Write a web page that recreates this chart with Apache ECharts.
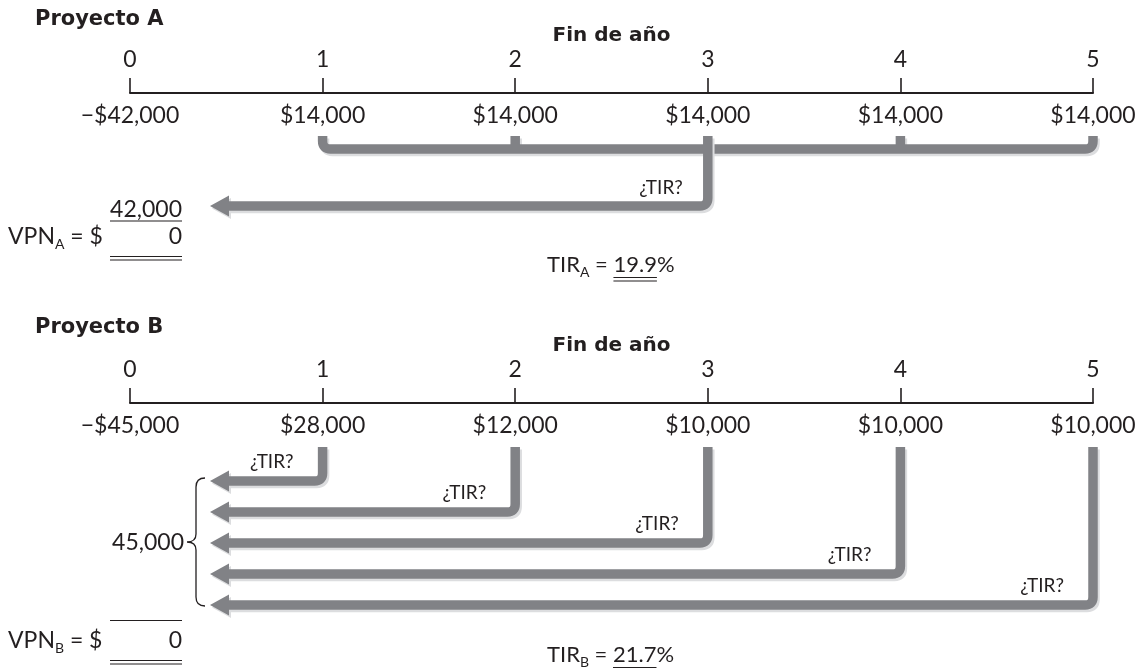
<!DOCTYPE html>
<html>
<head>
<meta charset="utf-8">
<script src="https://cdn.jsdelivr.net/npm/echarts@6/dist/echarts.min.js"></script>
<style>
  html, body { margin: 0; background: #fff; }
  #chart { width: 1141px; height: 668px; }
</style>
</head>
<body>
<div id="chart"></div>
<script>
// data
const years = [0, 1, 2, 3, 4, 5];
const yearLabels = ['0', '1', '2', '3', '4', '5'];
const cashA = [-42000, 14000, 14000, 14000, 14000, 14000];
const cashB = [-45000, 28000, 12000, 10000, 10000, 10000];
const pvInflows = [42000, 45000];
const npvValues = [0, 0];
const irrValues = [19.9, 21.7];
const projectTitles = ['Proyecto A', 'Proyecto B'];
const projectKeys = ['A', 'B'];
const axisTitle = 'Fin de año';
const irrQuestion = '¿TIR?';

const FONT = 'Lato, "Noto Sans", sans-serif';
const HEAVY = '"DejaVu Sans", Lato, sans-serif';
const INK = '#231f20';
const GRAY = '#818286';
const SHADOW = '#dcdddf';
const ARROW_W = 9.5;

// offsets below each timeline, in px (layout only)
const LABEL_OFF = 23;
const STUB_TOP = 43;
const BAR_OFF = 56;
const ARROW_A_OFF = 113;
const FIRST_ROW_OFF = 78;
const ROW_GAP = 31;
const TIP_DX = 80;

const money = (v) => (v < 0 ? '\u2212$' : '$') + Math.abs(v).toLocaleString('en-US');

const ctx = document.createElement('canvas').getContext('2d');
const textWidth = (text, font) => {
  ctx.font = font;
  return ctx.measureText(text).width;
};

function xAxisFor(gridIndex) {
  return {
    gridIndex,
    type: 'value',
    position: 'top',
    min: 0,
    max: 5,
    interval: 1,
    axisLine: { lineStyle: { color: INK, width: 2 } },
    axisTick: { length: 15, lineStyle: { color: INK, width: 1.6 } },
    axisLabel: {
      formatter: (v) => yearLabels[years.indexOf(v)],
      fontSize: 23,
      color: INK,
      fontFamily: FONT,
      margin: 22,
    },
    splitLine: { show: false },
    name: axisTitle,
    nameLocation: 'middle',
    nameGap: 47,
    nameTextStyle: { fontSize: 20, fontWeight: 'bold', color: INK, fontFamily: HEAVY },
  };
}

// gray bent arrow with a light shadow
function arrowParts(pathData, tipX, tipY) {
  const parts = [];
  [[SHADOW, 2, 2.5], [GRAY, 0, 0]].forEach(([color, dx, dy]) => {
    parts.push({
      type: 'path',
      x: dx,
      y: dy,
      shape: { pathData },
      style: { stroke: color, lineWidth: ARROW_W, fill: 'none', lineCap: 'butt' },
    });
    if (tipX !== null) {
      const head = [[tipX, tipY], [tipX + 19, tipY - 10.5], [tipX + 19, tipY + 10.5]];
      parts.push({ type: 'polygon', x: dx, y: dy, shape: { points: head }, style: { fill: color } });
    }
  });
  return parts;
}

function irrText(x, y) {
  return {
    type: 'text',
    x,
    y,
    style: { text: irrQuestion, fill: INK, font: `19px ${FONT}`, align: 'right', verticalAlign: 'middle' },
  };
}

function cashSeries(gridIndex, cash) {
  return {
    type: 'custom',
    xAxisIndex: gridIndex,
    yAxisIndex: gridIndex,
    data: years.map((y, i) => [y, cash[i]]),
    renderItem: (params, api) => {
      const p = api.coord([api.value(0), LABEL_OFF]);
      return {
        type: 'text',
        x: p[0],
        y: p[1],
        style: { text: money(api.value(1)), fill: INK, font: `23px ${FONT}`, align: 'center', verticalAlign: 'middle' },
      };
    },
  };
}

// Project A: inflows gathered into one bracket, single IRR arrow back to year 0
const inflowYearsA = years.filter((y, i) => cashA[i] > 0);
const pivotA = inflowYearsA[Math.floor(inflowYearsA.length / 2)];

const bracketA = {
  type: 'custom',
  xAxisIndex: 0,
  yAxisIndex: 0,
  data: [[inflowYearsA[0], inflowYearsA[inflowYearsA.length - 1], pivotA]],
  renderItem: (params, api) => {
    const r = 8;
    const top = api.coord([0, STUB_TOP])[1];
    const bar = api.coord([0, BAR_OFF])[1];
    const ay = api.coord([0, ARROW_A_OFF])[1];
    const tipX = api.coord([0, 0])[0] + TIP_DX;
    const x1 = api.coord([api.value(0), 0])[0];
    const x2 = api.coord([api.value(1), 0])[0];
    const xp = api.coord([api.value(2), 0])[0];
    let d = `M ${x1} ${top} L ${x1} ${bar - r} Q ${x1} ${bar} ${x1 + r} ${bar} L ${x2 - r} ${bar} Q ${x2} ${bar} ${x2} ${bar - r} L ${x2} ${top}`;
    inflowYearsA.slice(1, -1).forEach((y) => {
      const x = api.coord([y, 0])[0];
      if (y !== api.value(2)) d += ` M ${x} ${top} L ${x} ${bar}`;
    });
    const children = arrowParts(d, null, null);
    const dp = `M ${xp} ${top} L ${xp} ${ay - r} Q ${xp} ${ay} ${xp - r} ${ay} L ${tipX + 15} ${ay}`;
    children.push(...arrowParts(dp, tipX, ay));
    children.push(irrText(xp - 25, ay - 18));
    return { type: 'group', children };
  },
};

// Project B: one IRR arrow per inflow year
const inflowYearsB = years.filter((y, i) => cashB[i] > 0);
const arrowsB = {
  type: 'custom',
  xAxisIndex: 1,
  yAxisIndex: 1,
  data: inflowYearsB.map((y, row) => [y, row]),
  renderItem: (params, api) => {
    const r = 8;
    const x = api.coord([api.value(0), 0])[0];
    const top = api.coord([0, STUB_TOP + 1])[1];
    const ay = api.coord([0, FIRST_ROW_OFF + api.value(1) * ROW_GAP])[1];
    const tipX = api.coord([0, 0])[0] + TIP_DX;
    const d = `M ${x} ${top} L ${x} ${ay - r} Q ${x} ${ay} ${x - r} ${ay} L ${tipX + 15} ${ay}`;
    const children = arrowParts(d, tipX, ay);
    children.push(irrText(x - 29, ay - 19));
    return { type: 'group', children };
  },
};

// brace gathering the B arrows into the initial outlay
const braceB = {
  type: 'custom',
  xAxisIndex: 1,
  yAxisIndex: 1,
  data: [[0, inflowYearsB.length - 1, pvInflows[1]]],
  renderItem: (params, api) => {
    const y1 = api.coord([0, FIRST_ROW_OFF + api.value(0) * ROW_GAP])[1] - 3;
    const y2 = api.coord([0, FIRST_ROW_OFF + api.value(1) * ROW_GAP])[1] + 1;
    const ym = (y1 + y2) / 2;
    const xr = api.coord([0, 0])[0] + TIP_DX - 5;
    const xs = xr - 9;
    const xt = xr - 18;
    const d = `M ${xr} ${y1} Q ${xs} ${y1} ${xs} ${y1 + 9} L ${xs} ${ym - 8} Q ${xs} ${ym} ${xt} ${ym} Q ${xs} ${ym} ${xs} ${ym + 8} L ${xs} ${y2 - 9} Q ${xs} ${y2} ${xr} ${y2}`;
    return {
      type: 'group',
      children: [
        { type: 'path', shape: { pathData: d }, style: { stroke: INK, lineWidth: 1.3, fill: 'none' } },
        {
          type: 'text',
          x: xt - 3,
          y: ym + 1,
          style: { text: api.value(2).toLocaleString('en-US'), fill: INK, font: `23px ${FONT}`, align: 'right', verticalAlign: 'middle' },
        },
      ],
    };
  },
};

// summary annotations (NPV / IRR rows)
const F23 = `23px ${FONT}`;
const F22 = `22px ${FONT}`;
const F14 = `14px ${FONT}`;

function txt(text, x, y, font, align) {
  return { type: 'text', x, y, style: { text, fill: INK, font, align: align || 'left', verticalAlign: 'middle' } };
}
function hline(x1, x2, y, w) {
  return { type: 'line', shape: { x1, y1: y, x2, y2: y }, style: { stroke: INK, lineWidth: w || 1.2 } };
}

function npvRow(key, value, y) {
  const els = [];
  let x = 8;
  els.push(txt('VPN', x, y, F23));
  x += textWidth('VPN', F23);
  els.push(txt(key, x, y + 7, F14));
  x += textWidth(key, F14);
  els.push(txt(' = $', x, y, F23));
  els.push(txt(String(value), 182, y, F23, 'right'));
  els.push(hline(110, 182, y + 19.5), hline(110, 182, y + 23));
  return els;
}

function irrRow(key, value, y) {
  const els = [];
  let x = 547;
  els.push(txt('TIR', x, y, F22));
  x += textWidth('TIR', F22);
  els.push(txt(key, x, y + 7, F14));
  x += textWidth(key, F14);
  els.push(txt(' = ', x, y, F22));
  x += textWidth(' = ', F22);
  const num = value.toFixed(1);
  els.push(txt(num, x, y, F22));
  const w = textWidth(num, F22);
  els.push(hline(x, x + w, y + 12.5), hline(x, x + w, y + 16));
  els.push(txt('%', x + w, y, F22));
  return els;
}

const graphicEls = [];
// Project A
graphicEls.push(txt(pvInflows[0].toLocaleString('en-US'), 182, 210, F23, 'right'));
graphicEls.push(hline(110, 182, 221));
graphicEls.push(...npvRow(projectKeys[0], npvValues[0], 237));
graphicEls.push(...irrRow(projectKeys[0], irrValues[0], 265));
// Project B
graphicEls.push(hline(110, 182, 620.5));
graphicEls.push(...npvRow(projectKeys[1], npvValues[1], 641));
graphicEls.push(...irrRow(projectKeys[1], irrValues[1], 655));

const chart = echarts.init(document.getElementById('chart'), null, { renderer: 'canvas' });
chart.setOption({
  animation: false,
  backgroundColor: '#fff',
  title: projectTitles.map((t, i) => ({
    text: t,
    left: 35,
    top: i === 0 ? 9 : 317,
    padding: 0,
    textStyle: { fontSize: 21, fontWeight: 'bold', color: INK, fontFamily: HEAVY },
  })),
  grid: [
    { left: 130, width: 963, top: 93, height: 200 },
    { left: 130, width: 963, top: 403, height: 260 },
  ],
  xAxis: [xAxisFor(0), xAxisFor(1)],
  yAxis: [
    { gridIndex: 0, type: 'value', inverse: true, min: 0, max: 200, show: false },
    { gridIndex: 1, type: 'value', inverse: true, min: 0, max: 260, show: false },
  ],
  series: [cashSeries(0, cashA), bracketA, cashSeries(1, cashB), arrowsB, braceB],
  graphic: graphicEls,
});
</script>
</body>
</html>
